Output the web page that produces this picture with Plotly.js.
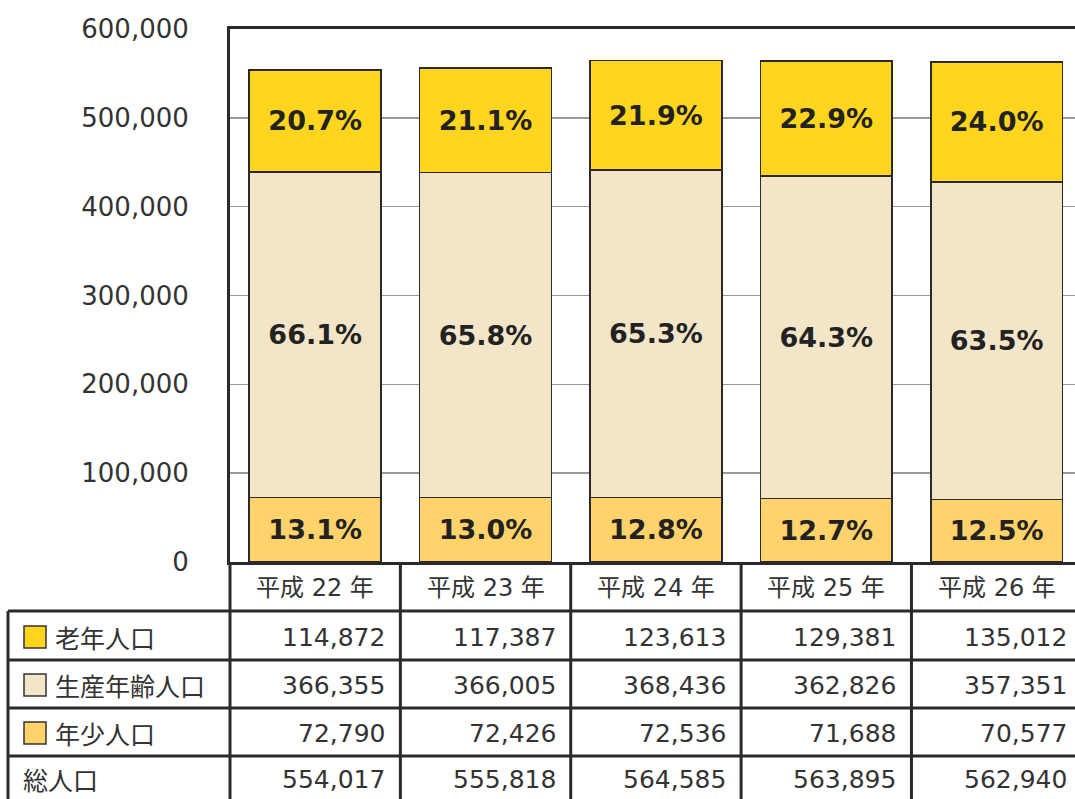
<!DOCTYPE html>
<html>
<head>
<meta charset="utf-8">
<script src="https://cdn.plot.ly/plotly-3.0.1.min.js"></script>
<style>html,body{margin:0;padding:0;background:#fff;}#chart{width:1075px;height:799px;}</style>
</head>
<body>
<div id="chart"></div>
<script>
// ---- data ----
const years = ["平成 22 年", "平成 23 年", "平成 24 年", "平成 25 年", "平成 26 年"];
const seriesNames = ["老年人口", "生産年齢人口", "年少人口"];
const elderly = [114872, 117387, 123613, 129381, 135012];
const working = [366355, 366005, 368436, 362826, 357351];
const young = [72790, 72426, 72536, 71688, 70577];
const totalLabel = "総人口";
const total = [554017, 555818, 564585, 563895, 562940];
const yTicks = [0, 100000, 200000, 300000, 400000, 500000, 600000];

// ---- style ----
const colElderly = "#FFD520";
const colWorking = "#F3E5C8";
const colYoung = "#FFD26C";
const edge = "#2a2a2a";
const W = 1075, H = 799;
const mL = 230, mR = 0, mT = 29, mB = 237;
const plotW = W - mL - mR, plotH = H - mT - mB;
const xRange = [-0.5, 4.46];
const px2x = p => (p - mL) / plotW;
const py2y = p => (H - mB - p) / plotH;
const cat2paper = c => (c - xRange[0]) / (xRange[1] - xRange[0]);

const idx = years.map((_, i) => i);
const pct = (arr) => arr.map((v, i) => (v / total[i] * 100).toFixed(1) + "%");

function barTrace(name, vals, color) {
  return {
    type: "bar", name: name, x: idx, y: vals,
    width: 0.774,
    marker: {color: color, line: {color: edge, width: 1.6}},
    text: pct(vals), textposition: "inside", insidetextanchor: "middle",
    textangle: 0, constraintext: "none",
    textfont: {family: "DejaVu Sans", size: 27, color: "#222", weight: "bold"},
    hoverinfo: "skip"
  };
}
const data = [
  barTrace(seriesNames[2], young, colYoung),
  barTrace(seriesNames[1], working, colWorking),
  barTrace(seriesNames[0], elderly, colElderly)
];

// ---- table ----
const rowLines = [562, 611, 660, 708, 756];
const rowCenters = [588, 637, 685, 733, 779];
const leftEdge = 8;
const shapes = [];
const annotations = [];
const lineStyle = {color: edge, width: 3};
rowLines.slice(1).forEach(yp => {
  shapes.push({type: "line", xref: "paper", yref: "paper", x0: px2x(leftEdge), x1: 1.01, y0: py2y(yp), y1: py2y(yp), line: lineStyle});
});
shapes.push({type: "line", xref: "paper", yref: "paper", x0: px2x(leftEdge), x1: px2x(leftEdge), y0: py2y(rowLines[1]), y1: py2y(H + 5), line: lineStyle});
shapes.push({type: "line", xref: "paper", yref: "paper", x0: 0, x1: 0, y0: 0, y1: py2y(H + 5), line: lineStyle});
for (let i = 1; i < years.length; i++) {
  shapes.push({type: "line", xref: "paper", yref: "paper", x0: cat2paper(i - 0.5), x1: cat2paper(i - 0.5), y0: 0, y1: py2y(H + 5), line: lineStyle});
}
const cellFont = {family: "DejaVu Sans, Noto Sans CJK JP", size: 25, color: "#333"};
const jpFont = {family: "Noto Sans CJK JP", size: 25, color: "#333"};
years.forEach((y, i) => {
  annotations.push({xref: "paper", yref: "paper", x: cat2paper(i), y: py2y(rowCenters[0]), text: y, showarrow: false,
    xanchor: "center", yanchor: "middle", font: {family: "DejaVu Sans, Noto Sans CJK JP", size: 24, color: "#333"}});
});
const rows = [
  {name: seriesNames[0], vals: elderly, color: colElderly},
  {name: seriesNames[1], vals: working, color: colWorking},
  {name: seriesNames[2], vals: young, color: colYoung},
  {name: totalLabel, vals: total, color: null}
];
rows.forEach((r, k) => {
  const yc = rowCenters[k + 1];
  if (r.color) {
    shapes.push({type: "rect", xref: "paper", yref: "paper", x0: px2x(24), x1: px2x(46), y0: py2y(yc - 11), y1: py2y(yc + 11),
      fillcolor: r.color, line: {color: "#333", width: 1.5}});
    annotations.push({xref: "paper", yref: "paper", x: px2x(53), y: py2y(yc), text: r.name, showarrow: false,
      xanchor: "left", yanchor: "middle", font: jpFont});
  } else {
    annotations.push({xref: "paper", yref: "paper", x: px2x(21), y: py2y(yc), text: r.name, showarrow: false,
      xanchor: "left", yanchor: "middle", font: jpFont});
  }
  r.vals.forEach((v, i) => {
    annotations.push({xref: "paper", yref: "paper", x: cat2paper(i + 0.5), xshift: -13, y: py2y(yc), text: v.toLocaleString("en-US"),
      showarrow: false, xanchor: "right", yanchor: "middle", font: cellFont});
  });
});

const layout = {
  width: W, height: H,
  margin: {l: mL, r: mR, t: mT, b: mB, pad: 0},
  paper_bgcolor: "#fff", plot_bgcolor: "#fff",
  barmode: "stack", showlegend: false,
  xaxis: {range: xRange, showticklabels: false, ticks: "", showgrid: false, zeroline: false,
    showline: true, mirror: true, linecolor: edge, linewidth: 3, fixedrange: true},
  yaxis: {range: [0, 600000], tickvals: yTicks, tickformat: ",d", showgrid: true, gridcolor: "#999", gridwidth: 1.5,
    zeroline: false, showline: true, linecolor: edge, linewidth: 3, ticks: "", ticklabelstandoff: 33,
    tickfont: {family: "DejaVu Sans", size: 26, color: "#333"}, fixedrange: true},
  shapes: shapes,
  annotations: annotations
};
Plotly.newPlot("chart", data, layout, {staticPlot: true});
</script>
</body>
</html>
